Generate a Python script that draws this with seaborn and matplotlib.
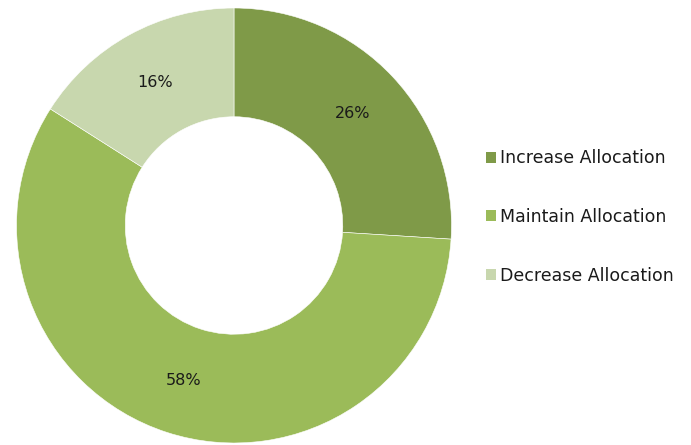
import matplotlib
matplotlib.use("Agg")
import matplotlib.pyplot as plt
from matplotlib.patches import Patch
import seaborn as sns

categories = ["Increase Allocation", "Maintain Allocation", "Decrease Allocation"]
shares = [26, 58, 16]
colors = ["#7F9A48", "#9BBB59", "#C8D7AE"]

sns.set_theme(style="white")
plt.rcParams["font.family"] = ["DejaVu Sans"]

fig = plt.figure(figsize=(6.91, 4.45), dpi=100)
W, H = 691, 445
cx, cy, r = 234, 219.5, 217.5
ax = fig.add_axes([(cx - r) / W, (cy - r) / H, 2 * r / W, 2 * r / H])

palette = sns.color_palette(colors)
wedges, texts, autotexts = ax.pie(
    shares,
    colors=palette,
    startangle=90,
    counterclock=False,
    autopct=lambda p: f"{p:.0f}%",
    pctdistance=0.75,
    wedgeprops=dict(width=0.5, edgecolor="white", linewidth=0.4),
    textprops=dict(fontsize=11.5, color="#1a1a1a"),
)
ax.set_aspect("equal")
ax.set_xlim(-1, 1)
ax.set_ylim(-1, 1)
ax.axis("off")

handles = [Patch(facecolor=c, edgecolor="none") for c in palette]
fig.legend(
    handles,
    categories,
    loc="center left",
    bbox_to_anchor=(470 / W, 1 - 217 / H),
    frameon=False,
    fontsize=12.5,
    handlelength=0.6,
    handleheight=0.6,
    handletextpad=0.25,
    labelspacing=2.35,
    labelcolor="#1a1a1a",
)

fig.savefig("out.png", dpi=100)
